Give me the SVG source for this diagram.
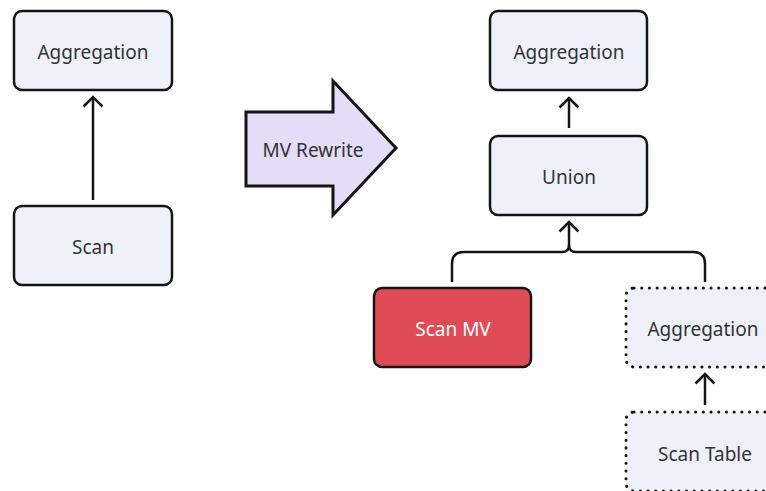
<svg xmlns="http://www.w3.org/2000/svg" width="766" height="491" viewBox="0 0 766 491">
  <style>
    .node { fill: #eef0fa; stroke: #141414; stroke-width: 2.5; }
    .dotted { fill: #eef0fa; stroke: #141414; stroke-width: 3; stroke-dasharray: 0.1 7.6; stroke-linecap: round; }
    .mv { fill: #e04c56; stroke: #141414; stroke-width: 2.5; }
    .label { font-family: "Noto Sans", "Liberation Sans", sans-serif; font-size: 19px; fill: #333; text-anchor: middle; dominant-baseline: central; }
    .light { fill: #ffffff; }
    .edge { fill: none; stroke: #141414; stroke-width: 2.5; stroke-linecap: butt; }
  </style>
  <defs>
    <marker id="head" markerWidth="14" markerHeight="22" refX="11" refY="11" orient="auto" markerUnits="userSpaceOnUse">
      <path d="M1.5,1.5 L11,11 L1.5,20.5" fill="none" stroke="#141414" stroke-width="2.5"/>
    </marker>
  </defs>

  <rect width="766" height="491" fill="#ffffff"/>

  <!-- original plan -->
  <g id="agg-left">
    <rect class="node" x="14" y="11" width="158" height="79" rx="8"/>
    <text class="label" x="93" y="52">Aggregation</text>
  </g>
  <g id="scan-left">
    <rect class="node" x="14" y="206" width="158" height="79" rx="8"/>
    <text class="label" x="93" y="247">Scan</text>
  </g>

  <!-- rewrite step -->
  <g id="rewrite">
    <path d="M246,112 L333,112 L333,81 L396,148 L333,215 L333,186 L246,186 Z" fill="#e4ddf8" stroke="#141414" stroke-width="3" stroke-linejoin="miter"/>
    <text class="label" x="313" y="150">MV Rewrite</text>
  </g>

  <!-- rewritten plan -->
  <g id="agg-right">
    <rect class="node" x="490" y="11" width="157" height="79" rx="8"/>
    <text class="label" x="569" y="52">Aggregation</text>
  </g>
  <g id="union">
    <rect class="node" x="490" y="136" width="157" height="79" rx="8"/>
    <text class="label" x="569" y="177">Union</text>
  </g>
  <g id="scan-mv">
    <rect class="mv" x="374" y="288" width="157" height="79" rx="8"/>
    <text class="label light" x="453" y="329">Scan MV</text>
  </g>
  <g id="agg-partial">
    <rect class="dotted" x="626" y="288" width="160" height="79" rx="8"/>
    <text class="label" x="703" y="329">Aggregation</text>
  </g>
  <g id="scan-table">
    <rect class="dotted" x="626" y="412" width="160" height="79" rx="8"/>
    <text class="label" x="705" y="454">Scan Table</text>
  </g>

  <g id="connectors">
    <line class="edge" x1="93" y1="200" x2="93" y2="97" marker-end="url(#head)"/>
    <line class="edge" x1="569" y1="128" x2="569" y2="98" marker-end="url(#head)"/>
    <path class="edge" d="M452,282 L452,264 Q452,252 464,252 L562,252 Q569,252 569,245 L569,222" marker-end="url(#head)"/>
    <path class="edge" d="M705,282 L705,264 Q705,252 693,252 L576,252 Q569,252 569,245"/>
    <line class="edge" x1="705" y1="405" x2="705" y2="374" marker-end="url(#head)"/>
  </g>
</svg>
